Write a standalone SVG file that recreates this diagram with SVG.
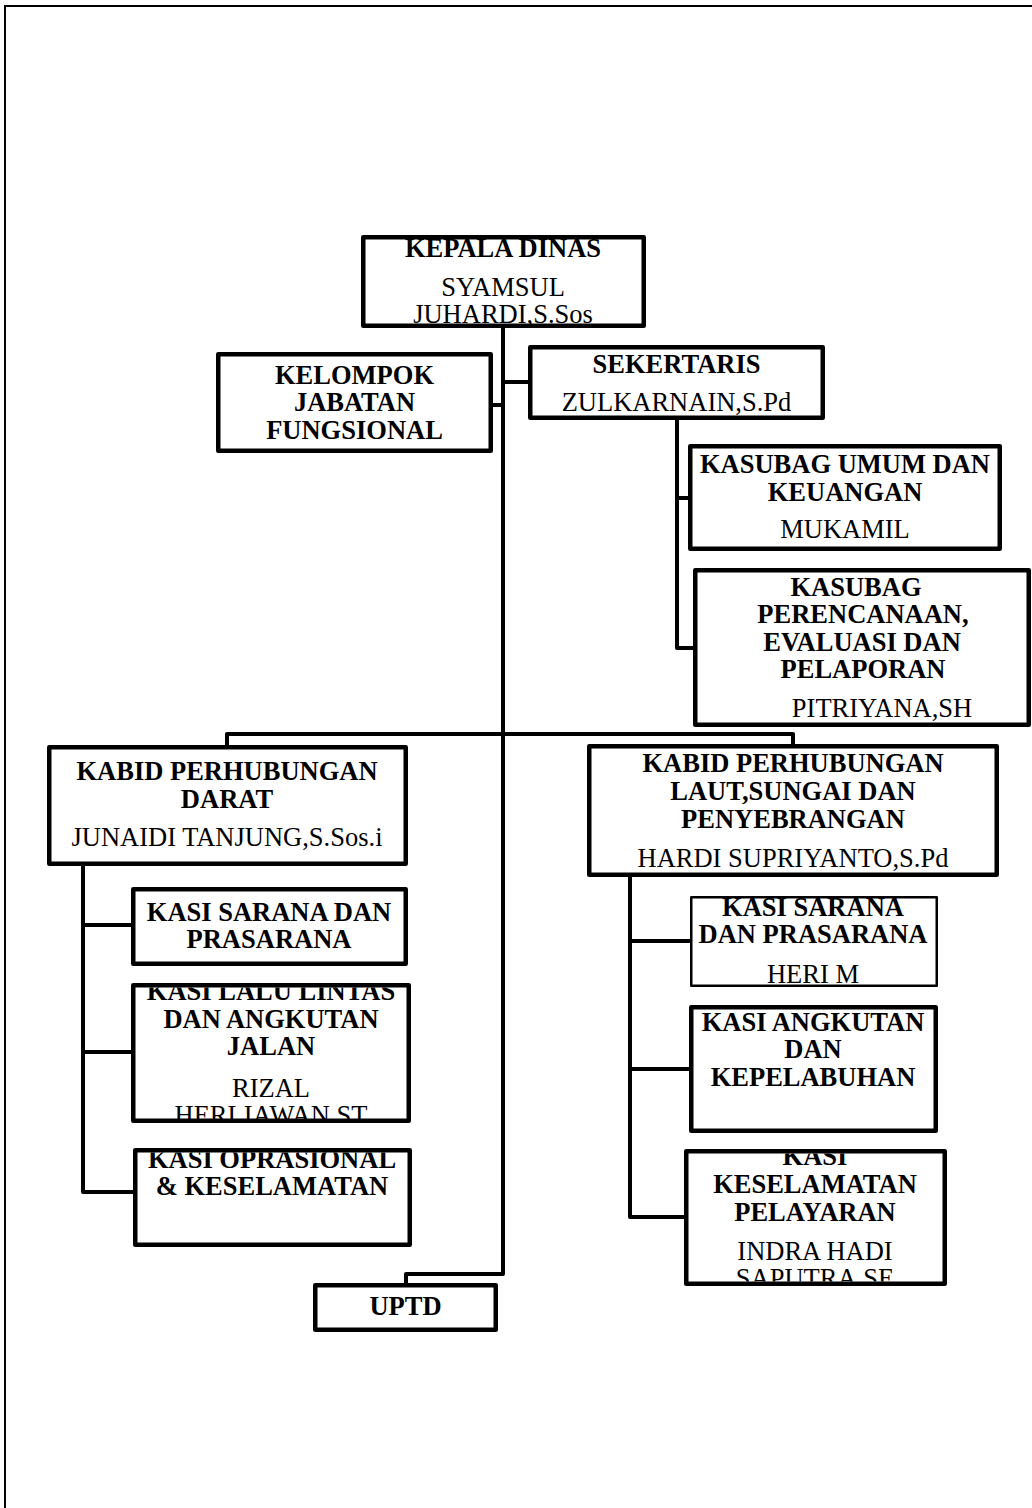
<svg xmlns="http://www.w3.org/2000/svg" width="1032" height="1508" viewBox="0 0 1032 1508">
<style>
.box{fill:#fff;stroke:#000;stroke-width:4.5;stroke-linejoin:round}
.thin{stroke-width:2.5}
.con{fill:none;stroke:#000;stroke-width:4;stroke-linejoin:round}
.frame{fill:none;stroke:#000;stroke-width:2}
text{font-family:"Liberation Serif","Times New Roman",serif;font-size:26.5px;text-anchor:middle;fill:#000}
.b{font-weight:bold}
</style>
<defs>
<clipPath id="cLalu"><rect x="135.5" y="987.5" width="271" height="131.5"/></clipPath>
<clipPath id="cOpr"><rect x="137.5" y="1152.5" width="270" height="90"/></clipPath>
<clipPath id="cKes"><rect x="688.5" y="1153.5" width="254" height="128"/></clipPath>
</defs>
<path class="frame" d="M5,1508 V6 H1032"/>
<g id="connectors">
<path class="con" d="M503,328 V1274 H406 V1283"/>
<path class="con" d="M493,405 H503"/>
<path class="con" d="M503,382 H528"/>
<path class="con" d="M677,420 V648 H693"/>
<path class="con" d="M677,498 H688"/>
<path class="con" d="M227,745 V734 H793 V744"/>
<path class="con" d="M83,866 V1192 H133"/>
<path class="con" d="M83,925 H131"/>
<path class="con" d="M83,1052 H131"/>
<path class="con" d="M630,877 V1217 H684"/>
<path class="con" d="M630,941 H690"/>
<path class="con" d="M630,1069 H689"/>
</g>
<g id="kepala">
<rect class="box" x="363.25" y="237.25" width="280.5" height="88.5"/>
<text class="b" x="503" y="257">KEPALA DINAS</text>
<text x="503" y="296">SYAMSUL</text>
<text x="503" y="323">JUHARDI,S.Sos</text>
</g>
<g id="kelompok">
<rect class="box" x="218.25" y="354.25" width="272.5" height="96.5"/>
<text class="b" x="354.5" y="384">KELOMPOK</text>
<text class="b" x="354.5" y="411">JABATAN</text>
<text class="b" x="354.5" y="439">FUNGSIONAL</text>
</g>
<g id="sekertaris">
<rect class="box" x="530.25" y="347.25" width="292.5" height="70.5"/>
<text class="b" x="676.5" y="373">SEKERTARIS</text>
<text x="676.5" y="411">ZULKARNAIN,S.Pd</text>
</g>
<g id="kasubag-umum">
<rect class="box" x="690.25" y="446.25" width="309.5" height="102.5"/>
<text class="b" x="845" y="473">KASUBAG UMUM DAN</text>
<text class="b" x="845" y="501">KEUANGAN</text>
<text x="845" y="538">MUKAMIL</text>
</g>
<g id="kasubag-perencanaan">
<rect class="box" x="695.25" y="570.25" width="333.5" height="154.5"/>
<text class="b" x="856" y="596">KASUBAG</text>
<text class="b" x="863" y="623">PERENCANAAN,</text>
<text class="b" x="862" y="651">EVALUASI DAN</text>
<text class="b" x="863" y="678">PELAPORAN</text>
<text x="882" y="717">PITRIYANA,SH</text>
</g>
<g id="kabid-darat">
<rect class="box" x="49.25" y="747.25" width="356.5" height="116.5"/>
<text class="b" x="227" y="780">KABID PERHUBUNGAN</text>
<text class="b" x="227" y="808">DARAT</text>
<text x="227" y="846">JUNAIDI TANJUNG,S.Sos.i</text>
</g>
<g id="kasi-sarana-darat">
<rect class="box" x="133.25" y="889.25" width="272.5" height="74.5"/>
<text class="b" x="269" y="921">KASI SARANA DAN</text>
<text class="b" x="269" y="948">PRASARANA</text>
</g>
<g id="kasi-lalu-lintas">
<rect class="box" x="133.25" y="985.25" width="275.5" height="135.5"/>
<g clip-path="url(#cLalu)">
<text class="b" x="271" y="1000">KASI LALU LINTAS</text>
<text class="b" x="271" y="1028">DAN ANGKUTAN</text>
<text class="b" x="271" y="1055">JALAN</text>
<text x="271" y="1097">RIZAL</text>
<text x="271" y="1124">HERLIAWAN,ST</text>
</g>
</g>
<g id="kasi-oprasional">
<rect class="box" x="135.25" y="1150.25" width="274.5" height="94.5"/>
<g clip-path="url(#cOpr)">
<text class="b" x="272" y="1168">KASI OPRASIONAL</text>
<text class="b" x="272" y="1195">&amp; KESELAMATAN</text>
</g>
</g>
<g id="kabid-laut">
<rect class="box" x="589.25" y="746.25" width="407.5" height="128.5"/>
<text class="b" x="793" y="772">KABID PERHUBUNGAN</text>
<text class="b" x="793" y="800">LAUT,SUNGAI DAN</text>
<text class="b" x="793" y="828">PENYEBRANGAN</text>
<text x="793" y="867">HARDI SUPRIYANTO,S.Pd</text>
</g>
<g id="kasi-sarana-laut">
<rect class="box thin" x="691.25" y="897.25" width="245.5" height="88.5"/>
<text class="b" x="813" y="916">KASI SARANA</text>
<text class="b" x="813" y="943">DAN PRASARANA</text>
<text x="813" y="983">HERI M</text>
</g>
<g id="kasi-angkutan">
<rect class="box" x="691.25" y="1007.25" width="244.5" height="123.5"/>
<text class="b" x="813" y="1031">KASI ANGKUTAN</text>
<text class="b" x="813" y="1058">DAN</text>
<text class="b" x="813" y="1086">KEPELABUHAN</text>
</g>
<g id="kasi-keselamatan">
<rect class="box" x="686.25" y="1151.25" width="258.5" height="132.5"/>
<g clip-path="url(#cKes)">
<text class="b" x="815" y="1165">KASI</text>
<text class="b" x="815" y="1193">KESELAMATAN</text>
<text class="b" x="815" y="1221">PELAYARAN</text>
<text x="815" y="1260">INDRA HADI</text>
<text x="815" y="1287">SAPUTRA,SE</text>
</g>
</g>
<g id="uptd">
<rect class="box" x="315.25" y="1285.25" width="180.5" height="44.5"/>
<text class="b" x="405.5" y="1315">UPTD</text>
</g>
</svg>
